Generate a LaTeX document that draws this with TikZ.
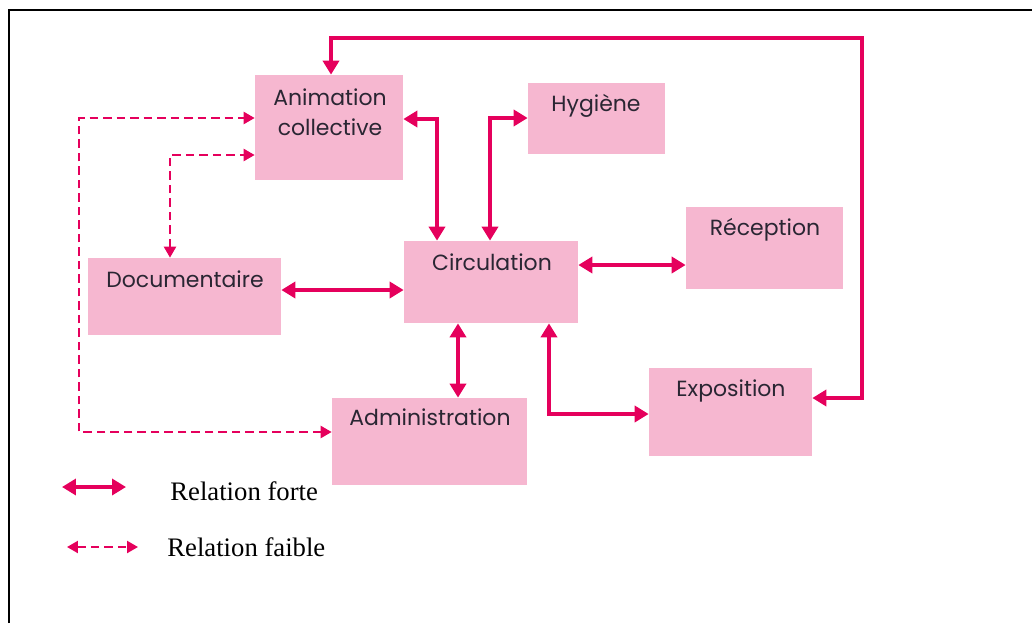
\documentclass[tikz,border=0pt]{standalone}
\usepackage{fontspec}
\setmainfont{Liberation Serif}
\newfontfamily\boxfont{Poppins}
\usetikzlibrary{arrows.meta}

\definecolor{rose}{HTML}{F6B7D0}
\definecolor{fuchsia}{HTML}{E5005C}
\definecolor{ink}{HTML}{2A2633}

\tikzset{
  box/.style={fill=rose, inner sep=0pt},
  lbl/.style={font=\boxfont\fontsize{12.5}{17}\selectfont, text=ink,
    anchor=base, inner sep=0pt, align=center},
  forte/.style={draw=fuchsia, line width=0.095cm,
    {Triangle[length=0.28cm,width=0.32cm]}-{Triangle[length=0.28cm,width=0.32cm]}},
  faible/.style={draw=fuchsia, line width=0.045cm, dash pattern=on 0.17cm off 0.1cm,
    {Triangle[length=0.22cm,width=0.24cm]}-{Triangle[length=0.22cm,width=0.24cm]}},
  legende/.style={font=\fontsize{15.2}{18}\selectfont, anchor=base west, inner sep=0pt}
}

\begin{document}
\begin{tikzpicture}[x=0.02cm,y=-0.02cm]
\useasboundingbox (0,0) rectangle (1032,623);
\draw[line width=0.045cm] (9,623) -- (9,10) -- (1032,10);

% les services
\node[box, minimum width=2.96cm, minimum height=2.1cm] (anim) at (329,127.5) {};
\node[box, minimum width=2.74cm, minimum height=1.42cm] (hyg) at (596.5,118.5) {};
\node[box, minimum width=3.14cm, minimum height=1.64cm] (recep) at (764.5,248) {};
\node[box, minimum width=3.48cm, minimum height=1.64cm] (circ) at (491,282) {};
\node[box, minimum width=3.86cm, minimum height=1.54cm] (doc) at (184.5,296.5) {};
\node[box, minimum width=3.26cm, minimum height=1.76cm] (expo) at (730.5,412) {};
\node[box, minimum width=3.9cm, minimum height=1.74cm] (admin) at (429.5,441.5) {};

\node[lbl] (anim-t) at (330,135) {Animation\\collective};
\node[lbl] (hyg-t) at (596,111) {Hygiène};
\node[lbl] (recep-t) at (765,235) {Réception};
\node[lbl] (circ-t) at (492,270) {Circulation};
\node[lbl] (doc-t) at (185,287) {Documentaire};
\node[lbl] (expo-t) at (731,396) {Exposition};
\node[lbl] (admin-t) at (430,425) {Administration};

% relations fortes
\coordinate (boucle) at (862,38);
\draw[forte] (anim.north -| 331,0) |- (boucle) |- (expo.east |- 0,398);
\draw[forte] (anim.east |- 0,119) -| (circ.north -| 437,0);
\draw[forte] (circ.north -| 490,0) |- (hyg.west |- 0,118);
\draw[forte] (doc.east |- 0,290) -- (circ.west |- 0,290);
\draw[forte] (circ.east |- 0,265) -- (recep.west |- 0,265);
\draw[forte] (circ.south -| 458,0) -- (admin.north -| 458,0);
\draw[forte] (circ.south -| 549,0) |- (expo.west |- 0,414);

% relations faibles
\coordinate (coude) at (79,118);
\draw[faible] (admin.west |- 0,432) -| (coude) -- (anim.west |- 0,118);
\draw[faible] (doc.north -| 170,0) |- (anim.west |- 0,155);

% legende
\coordinate (f1) at (62,487);
\coordinate (f2) at (126,487);
\coordinate (w1) at (67,547);
\coordinate (w2) at (138,547);
\draw[forte] (f1) -- (f2);
\draw[faible] (w1) -- (w2);
\node[legende] (forte-t) at (170,500) {Relation forte};
\node[legende] (faible-t) at (167,556) {Relation faible};
\end{tikzpicture}
\end{document}
